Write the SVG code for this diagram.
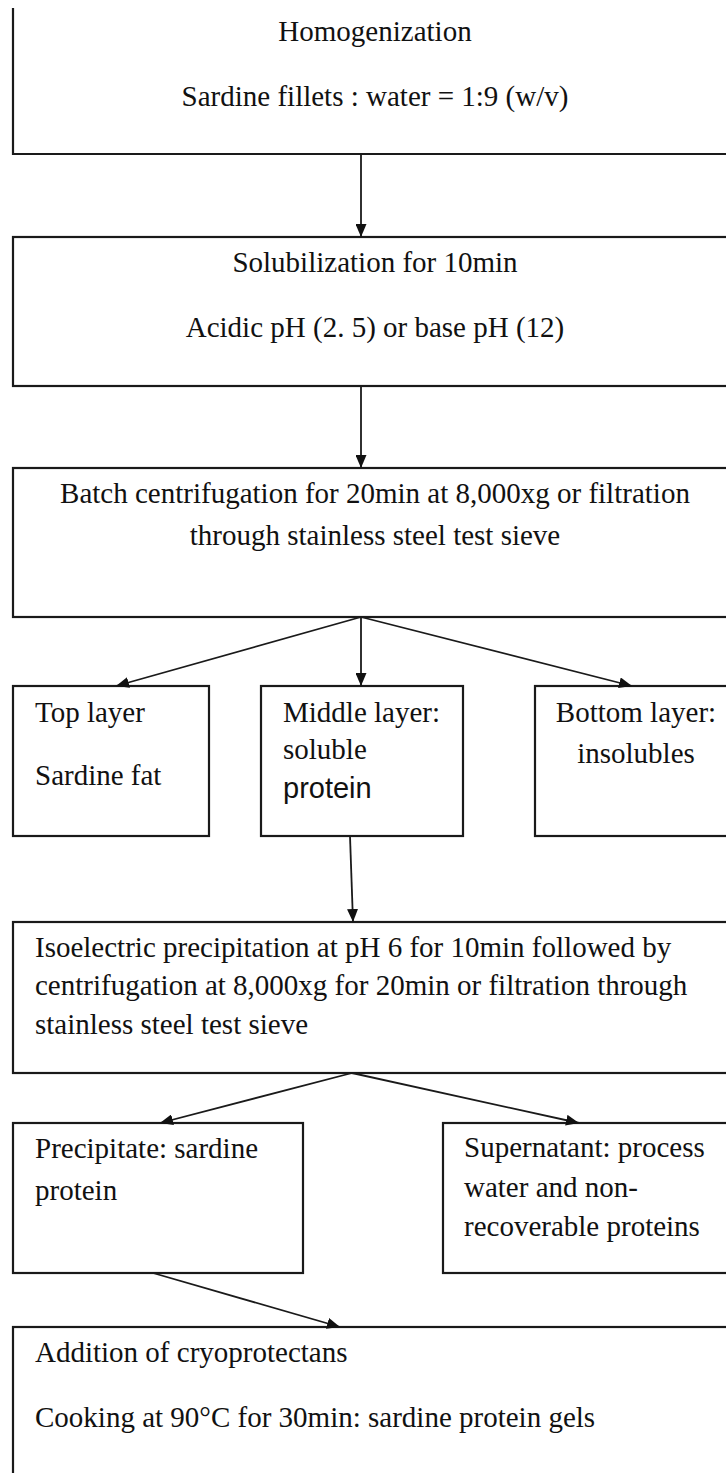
<svg xmlns="http://www.w3.org/2000/svg" width="726" height="1473" viewBox="0 0 726 1473">
<style>
.box{fill:none;stroke:#1a1a1a;stroke-width:2.2}
.t{font-family:"Liberation Serif","Times New Roman",serif;font-size:29px;fill:#111}
.s{font-family:"Liberation Sans",Arial,sans-serif;font-size:29px;fill:#111}
.c{text-anchor:middle}
.ln{stroke:#1a1a1a;stroke-width:1.8;fill:none;marker-end:url(#ah)}
</style>
<defs>
<marker id="ah" viewBox="0 0 13 11" refX="13" refY="5.5" markerWidth="13" markerHeight="11" markerUnits="userSpaceOnUse" orient="auto">
<path d="M0,0 L13,5.5 L0,11 Z" fill="#111"/>
</marker>
</defs>
<rect width="726" height="1473" fill="#fff"/>
<g id="homogenization">
<path class="box" d="M13,8 V154 H740"/>
<text class="t c" x="375" y="41">Homogenization</text>
<text class="t c" x="375" y="106">Sardine fillets : water = 1:9 (w/v)</text>
</g>
<g id="solubilization">
<rect class="box" x="13" y="237" width="740" height="149"/>
<text class="t c" x="375" y="272">Solubilization for 10min</text>
<text class="t c" x="375" y="337">Acidic pH (2. 5) or base pH (12)</text>
</g>
<g id="centrifugation">
<rect class="box" x="13" y="468" width="740" height="149"/>
<text class="t c" x="375" y="503">Batch centrifugation for 20min at 8,000xg or filtration</text>
<text class="t c" x="375" y="545">through stainless steel test sieve</text>
</g>
<g id="top-layer">
<rect class="box" x="13" y="686" width="196" height="150"/>
<text class="t" x="35" y="722">Top layer</text>
<text class="t" x="35" y="785">Sardine fat</text>
</g>
<g id="middle-layer">
<rect class="box" x="261" y="686" width="202" height="150"/>
<text class="t" x="283" y="722">Middle layer:</text>
<text class="t" x="283" y="759">soluble</text>
<text class="s" x="283" y="798">protein</text>
</g>
<g id="bottom-layer">
<rect class="box" x="535" y="686" width="220" height="150"/>
<text class="t c" x="636" y="722">Bottom layer:</text>
<text class="t c" x="636" y="763">insolubles</text>
</g>
<g id="isoelectric">
<rect class="box" x="13" y="922" width="740" height="151"/>
<text class="t" x="35" y="957">Isoelectric precipitation at pH 6 for 10min followed by</text>
<text class="t" x="35" y="995">centrifugation at 8,000xg for 20min or filtration through</text>
<text class="t" x="35" y="1034">stainless steel test sieve</text>
</g>
<g id="precipitate">
<rect class="box" x="13" y="1123" width="290" height="150"/>
<text class="t" x="35" y="1158">Precipitate: sardine</text>
<text class="t" x="35" y="1200">protein</text>
</g>
<g id="supernatant">
<rect class="box" x="443" y="1123" width="310" height="150"/>
<text class="t" x="464" y="1157">Supernatant: process</text>
<text class="t" x="464" y="1197">water and non-</text>
<text class="t" x="464" y="1236">recoverable proteins</text>
</g>
<g id="cryoprotectants">
<rect class="box" x="13" y="1327" width="740" height="170"/>
<text class="t" x="35" y="1362">Addition of cryoprotectans</text>
<text class="t" x="35" y="1427">Cooking at 90°C for 30min: sardine protein gels</text>
</g>
<g id="connectors">
<line class="ln" x1="361" y1="154" x2="361" y2="237"/>
<line class="ln" x1="361" y1="386" x2="361" y2="468"/>
<line class="ln" x1="361" y1="617" x2="116" y2="686"/>
<line class="ln" x1="361" y1="617" x2="361" y2="686"/>
<line class="ln" x1="361" y1="617" x2="632" y2="686"/>
<line class="ln" x1="350" y1="836" x2="353" y2="922"/>
<line class="ln" x1="352" y1="1073" x2="160" y2="1123"/>
<line class="ln" x1="352" y1="1073" x2="579" y2="1123"/>
<line class="ln" x1="153" y1="1273" x2="340" y2="1327"/>
</g>
</svg>
